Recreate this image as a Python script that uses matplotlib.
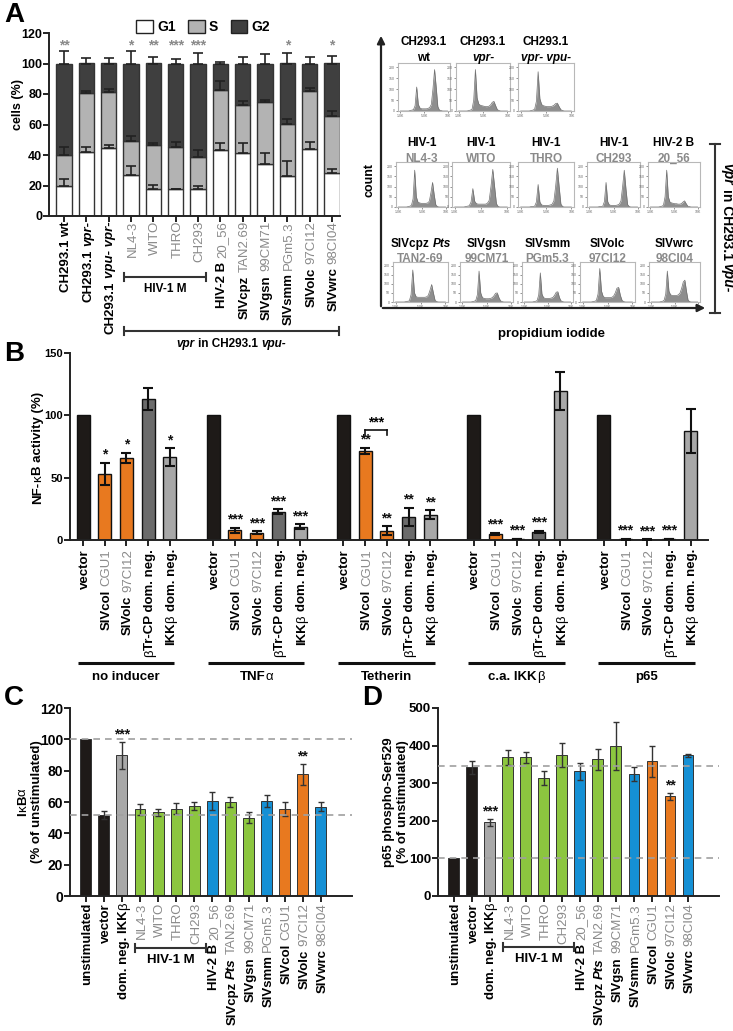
import matplotlib
matplotlib.use('Agg')
import matplotlib.pyplot as plt
from matplotlib.patches import Patch
import numpy as np

plt.rcParams['font.family'] = ['Liberation Sans', 'DejaVu Sans']

# ======================= DATA =======================
# Panel A (cell cycle, stacked %)
A_labels = [[("CH293.1 wt", 'b')], [("CH293.1 ", 'b'), ("vpr-", 'i')],
            [("CH293.1 ", 'b'), ("vpu- vpr-", 'i')],
            [("NL4-3", 'g')], [("WITO", 'g')], [("THRO", 'g')], [("CH293", 'g')],
            [("HIV-2 B ", 'b'), ("20_56", 'g')], [("SIVcpz ", 'b'), ("TAN2.69", 'g')],
            [("SIVgsn ", 'b'), ("99CM71", 'g')], [("SIVsmm ", 'b'), ("PGm5.3", 'g')],
            [("SIVolc ", 'b'), ("97CI12", 'g')], [("SIVwrc ", 'b'), ("98CI04", 'g')]]
A_g1 = [20, 42, 44.5, 27, 18, 17.5, 17.5, 43.5, 41, 34, 26.5, 44, 28]
A_g1_err = [4.5, 3, 2, 6, 2.5, 0.5, 2, 4.5, 7, 7, 9.5, 4.5, 3]
A_s_top = [40, 80.5, 81.5, 49.5, 46.5, 45, 38.5, 82.5, 72.5, 74.5, 60.5, 82, 65.5]
A_s_err = [5, 1.5, 2, 3, 1.5, 3.5, 4.5, 6, 3, 1.5, 3, 2, 3.5]
A_total = [100] * 13
A_g2_err = [8.5, 3.5, 3.5, 8.5, 4, 3, 7, 1, 4.5, 6.5, 7, 4, 5]
A_stars = ['**', '', '', '*', '**', '***', '***', '', '', '', '*', '', '*']

# Panel A histograms (normalised counts per bin)
h_wt = [0, 0, 0, 0, 0, 0, .01, .02, .03, .12, .55, .15, .07, .05, .05, .05, .05, .06, .08, .15, .5, .95, .55, .1, .02, .01, 0, 0, 0, 0]
h_vpr = [0, 0, 0, 0, 0, 0, .01, .02, .04, .25, .95, .3, .16, .13, .12, .11, .1, .1, .11, .14, .2, .22, .12, .03, .01, 0, 0, 0, 0, 0]
h_vprvpu = [0, 0, 0, 0, 0, 0, .01, .02, .04, .22, .9, .28, .15, .12, .11, .1, .1, .1, .11, .13, .17, .18, .1, .03, .01, 0, 0, 0, 0, 0]
h_nl43 = [0, 0, 0, 0, 0, 0, .01, .02, .04, .2, .9, .25, .12, .1, .09, .09, .09, .09, .1, .14, .35, .6, .3, .05, .01, 0, 0, 0, 0, 0]
h_wito = [0, 0, 0, 0, 0, 0, .01, .02, .03, .12, .45, .14, .08, .07, .07, .07, .07, .07, .09, .16, .5, .92, .5, .08, .01, 0, 0, 0, 0, 0]
h_thro = [0, 0, 0, 0, 0, 0, .01, .01, .02, .12, .55, .12, .05, .04, .04, .04, .04, .05, .07, .15, .5, .95, .5, .07, .01, 0, 0, 0, 0, 0]
h_ch293 = [0, 0, 0, 0, 0, 0, .01, .01, .02, .13, .6, .13, .05, .04, .04, .04, .04, .05, .07, .15, .5, .9, .45, .06, .01, 0, 0, 0, 0, 0]
h_2056 = [0, 0, 0, 0, 0, 0, .01, .02, .04, .25, .9, .25, .12, .1, .09, .08, .08, .07, .07, .08, .12, .15, .08, .02, .01, 0, 0, 0, 0, 0]
h_tan = [0, 0, 0, 0, 0, 0, .01, .02, .03, .2, .88, .25, .14, .13, .13, .13, .13, .13, .14, .18, .32, .48, .25, .04, .01, 0, 0, 0, 0, 0]
h_gsn = [0, 0, 0, 0, 0, 0, .01, .02, .04, .2, .85, .25, .12, .1, .09, .09, .09, .1, .12, .17, .24, .25, .12, .03, .01, 0, 0, 0, 0, 0]
h_smm = [0, 0, 0, 0, 0, 0, .01, .02, .04, .2, .8, .22, .12, .1, .1, .1, .1, .11, .13, .19, .27, .28, .12, .03, .01, 0, 0, 0, 0, 0]
h_olc = [0, 0, 0, 0, 0, 0, .01, .02, .04, .22, .92, .3, .15, .12, .12, .12, .12, .13, .16, .25, .38, .4, .18, .04, .01, 0, 0, 0, 0, 0]
h_wrc = [0, 0, 0, 0, 0, 0, .01, .02, .05, .22, .85, .3, .2, .18, .18, .18, .18, .2, .25, .38, .55, .6, .3, .05, .01, 0, 0, 0, 0, 0]
hist_titles = [
    ([("CH293.1", 'b')], [("wt", 'b')]), ([("CH293.1", 'b')], [("vpr-", 'i')]),
    ([("CH293.1", 'b')], [("vpr- vpu-", 'i')]),
    ([("HIV-1", 'b')], [("NL4-3", 'gb')]), ([("HIV-1", 'b')], [("WITO", 'gb')]),
    ([("HIV-1", 'b')], [("THRO", 'gb')]), ([("HIV-1", 'b')], [("CH293", 'gb')]),
    ([("HIV-2 B", 'b')], [("20_56", 'gb')]),
    ([("SIVcpz ", 'b'), ("Pts", 'i')], [("TAN2-69", 'gb')]), ([("SIVgsn", 'b')], [("99CM71", 'gb')]),
    ([("SIVsmm", 'b')], [("PGm5.3", 'gb')]), ([("SIVolc", 'b')], [("97CI12", 'gb')]),
    ([("SIVwrc", 'b')], [("98CI04", 'gb')])]
hist_data = [h_wt, h_vpr, h_vprvpu, h_nl43, h_wito, h_thro, h_ch293, h_2056,
             h_tan, h_gsn, h_smm, h_olc, h_wrc]
hist_ytick_labels = ['0', '50', '100', '150', '200']
hist_xtick_labels = ['1.0K', '5.0K', '10K']

# Panel B (NF-kB activity)
B_groups = [[("no inducer", 'b')], [("TNF", 'b'), ("α", 'n')], [("Tetherin", 'b')],
            [("c.a. IKK", 'b'), ("β", 'n')], [("p65", 'b')]]
B_labels = [[("vector", 'b')], [("SIVcol ", 'b'), ("CGU1", 'g')], [("SIVolc ", 'b'), ("97CI12", 'g')],
            [("β", 'n'), ("Tr-CP dom. neg.", 'b')], [("IKK", 'b'), ("β", 'n'), (" dom. neg.", 'b')]]
B_vals = [[100, 53, 66, 113, 66.5], [100, 8, 6, 22.5, 10.5], [100, 71.5, 7.5, 18.5, 20.3],
          [100, 5, 0.8, 6.3, 119.5], [100, 0.5, 0.3, 0.8, 87.3]]
B_err = [[0, 9, 4, 9, 7], [0, 2, 1, 2, 2], [0, 2.5, 3.5, 7, 3.5],
         [0, 0.8, 0.3, 1, 15.5], [0, 0.2, 0.2, 0.3, 17.8]]
B_stars = [['', '*', '*', '', '*'], ['', '***', '***', '***', '***'], ['', '**', '**', '**', '**'],
           ['', '***', '***', '***', ''], ['', '***', '***', '***', '']]

# Panels C and D
CD_labels = [[("unstimulated", 'b')], [("vector", 'b')], [("dom. neg. IKK", 'b'), ("β", 'n')],
             [("NL4-3", 'g')], [("WITO", 'g')], [("THRO", 'g')], [("CH293", 'g')],
             [("HIV-2 B ", 'b'), ("20_56", 'g')], [("SIVcpz ", 'b'), ("Pts", 'i'), (" TAN2.69", 'g')],
             [("SIVgsn ", 'b'), ("99CM71", 'g')], [("SIVsmm ", 'b'), ("PGm5.3", 'g')],
             [("SIVcol ", 'b'), ("CGU1", 'g')], [("SIVolc ", 'b'), ("97CI12", 'g')],
             [("SIVwrc ", 'b'), ("98CI04", 'g')]]
C_vals = [100, 51.8, 89.8, 55.4, 53.3, 55.6, 57.4, 60.8, 59.9, 49.9, 60.6, 55.4, 77.6, 57.1]
C_err = [0, 2.4, 8.6, 3.4, 2.5, 3.5, 2.5, 5.8, 3.2, 3.4, 3.6, 4.5, 6.6, 2.6]
C_stars = ['', '', '***', '', '', '', '', '', '', '', '', '', '**', '']
C_ref = [100, 52]
D_vals = [100, 342, 196, 369, 369, 313, 375, 332, 364, 399, 324, 358, 265, 374]
D_err = [0, 18, 10, 20, 15, 19, 31, 23, 28, 65, 19, 42, 10, 4.5]
D_stars = ['', '', '***', '', '', '', '', '', '', '', '', '', '**', '']
D_ref = [100, 345]

# ======================= STYLE =======================
BLACK = '#1e1a18'
ORANGE = '#e8791f'
GREEN = '#8cc63f'
BLUE = '#1590d5'
DGREY = '#6b6b6b'
LGREY = '#a8a8a8'
GREYTXT = '#8a8a8a'
S_C = '#b3b3b3'
G2_C = '#3f3f3f'
CD_colors = [BLACK, BLACK, LGREY, GREEN, GREEN, GREEN, GREEN, BLUE, GREEN, GREEN, BLUE,
             ORANGE, ORANGE, BLUE]
B_colors = [BLACK, ORANGE, ORANGE, DGREY, LGREY]

STY = {'b': dict(color='black', fontweight='bold'),
       'g': dict(color=GREYTXT, fontweight='normal'),
       'gb': dict(color=GREYTXT, fontweight='bold'),
       'i': dict(color='black', fontweight='bold', fontstyle='italic'),
       'n': dict(color='black', fontweight='normal')}

W, H = 733, 1031
fig = plt.figure(figsize=(W / 100, H / 100), dpi=100)
ov = fig.add_axes([0, 0, 1, 1], zorder=20)
ov.set_xlim(0, W)
ov.set_ylim(H, 0)
ov.axis('off')
R = fig.canvas.get_renderer()


def add_ax(l, t, r, b):
    return fig.add_axes([l / W, 1 - b / H, (r - l) / W, (b - t) / H])


def to_ov(ax, x, y):
    X, Y = ax.transData.transform((x, y))
    return X, H - Y


def mixed(x, y, parts, size, rot=0, anchor='center'):
    em = size * 100 / 72.0
    sp = 0.278 * em
    items = []
    total = 0.0
    for s, st in parts:
        lead = len(s) - len(s.lstrip(' '))
        trail = len(s) - len(s.rstrip(' '))
        core = s.strip(' ')
        t = ov.text(0, 0, core, fontsize=size, ha='left', va='baseline',
                    rotation_mode='anchor', **STY[st])
        w = t.get_window_extent(R).width
        items.append((t, lead * sp, w, trail * sp))
        total += lead * sp + w + trail * sp
    if rot == 0:
        d = (1, 0); perp = (0, 0.36 * em)
    elif rot == 90:
        d = (0, -1); perp = (0.36 * em, 0)
    else:
        d = (0, 1); perp = (-0.36 * em, 0)
    if anchor == 'center':
        o = -total / 2
    elif anchor == 'end':
        o = -total
    else:
        o = 0
    u = o
    for t, lead, w, trail in items:
        u += lead
        t.set_position((x + d[0] * u + perp[0], y + d[1] * u + perp[1]))
        t.set_rotation(rot)
        u += w + trail


def style_bar_ax(ax, yt, size):
    for s in ['top', 'right']:
        ax.spines[s].set_visible(False)
    for s in ['left', 'bottom']:
        ax.spines[s].set_linewidth(1.4)
        ax.spines[s].set_color('#222222')
    ax.set_yticks(yt)
    ax.set_yticklabels([str(v) for v in yt], fontweight='bold', fontsize=size)
    ax.tick_params(axis='both', width=1.4, length=4, color='#222222', pad=1)
    ax.tick_params(axis='x', labelbottom=False)


def bracket(x0, x1, y, lw=1.5, tick=4):
    ov.plot([x0, x1], [y, y], color='#333333', lw=lw, solid_capstyle='butt')
    ov.plot([x0, x0], [y - tick, y + tick], color='#333333', lw=lw)
    ov.plot([x1, x1], [y - tick, y + tick], color='#333333', lw=lw)


# ======================= PANEL A (bars) =======================
axA = add_ax(49, 33, 340, 216)
n = len(A_g1)
xa = np.arange(n)
bw = 0.68
g1 = np.array(A_g1)
st = np.array(A_s_top)
axA.bar(xa, g1, bw, color='white', edgecolor='#333333', lw=1, zorder=2)
axA.bar(xa, st - g1, bw, bottom=g1, color=S_C, edgecolor='#333333', lw=1, zorder=2)
axA.bar(xa, np.array(A_total) - st, bw, bottom=st, color=G2_C, edgecolor='#333333', lw=1, zorder=2)
for tops, err in [(A_g1, A_g1_err), (A_s_top, A_s_err), (A_total, A_g2_err)]:
    axA.errorbar(xa, tops, yerr=[np.zeros(n), err], fmt='none', ecolor='#222222',
                 elinewidth=1.2, capsize=3.5, capthick=1.2, zorder=3)
for i, s in enumerate(A_stars):
    axA.text(i, 111.5, s, ha='center', va='center', color=GREYTXT, fontsize=10, fontweight='bold')
axA.set_xlim(-0.67, 12.36)
axA.set_ylim(0, 120)
axA.set_xticks(xa)
style_bar_ax(axA, [0, 20, 40, 60, 80, 100, 120], 9)
for i, parts in enumerate(A_labels):
    X, _ = to_ov(axA, i, 0)
    mixed(X, 221, parts, 9.5, rot=90, anchor='end')
xl, _ = to_ov(axA, 3 - 0.3, 0)
xr, _ = to_ov(axA, 6 + 0.36, 0)
bracket(xl, xr, 277)
mixed((xl + xr) / 2, 288, [("HIV-1 M", 'b')], 8.5)
xr2, _ = to_ov(axA, 12 + 0.3, 0)
bracket(xl, xr2, 331)
mixed((xl + xr2) / 2, 343, [("vpr", 'i'), (" in CH293.1 ", 'b'), ("vpu-", 'i')], 8.5)
mixed(16, 105, [("cells (%)", 'b')], 9, rot=90)
fig.legend(handles=[Patch(fc='white', ec='#222222', label='G1'),
                    Patch(fc=S_C, ec='#222222', label='S'),
                    Patch(fc=G2_C, ec='#222222', label='G2')],
           loc='center', bbox_to_anchor=(203 / W, 1 - 27 / H), ncol=3, frameon=False,
           prop=dict(weight='bold', size=10), handlelength=1.2, handleheight=1.1,
           handletextpad=0.3, columnspacing=0.9, borderpad=0)

# ======================= PANEL A (histograms) =======================
hist_boxes = [(398, 63, 450, 111), (456, 63, 510, 111), (518, 63, 574, 111),
              (396, 162, 448, 207), (452, 162, 510, 207), (518, 162, 574, 207),
              (587, 162, 640, 207), (648, 162, 700, 207),
              (393, 262, 448, 302), (460, 262, 513, 302), (522, 262, 573, 302),
              (580, 262, 635, 302), (649, 262, 700, 302)]
title_rows = {63: (41, 57), 162: (142, 158), 262: (243, 258)}
for box, vals, (t1, t2) in zip(hist_boxes, hist_data, hist_titles):
    l, t, r, b = box
    hx = add_ax(l, t, r, b)
    xs = np.arange(len(vals))
    hx.fill_between(xs, vals, color='#8e8e8e', lw=0)
    hx.plot(xs, vals, color='#707070', lw=0.5)
    hx.set_xlim(-1.5, len(vals) + 0.5)
    hx.set_ylim(0, 1.1)
    for sp in hx.spines.values():
        sp.set_color('#b8b8b8')
        sp.set_linewidth(0.8)
    hx.set_yticks([0, .25, .5, .75, 1.0])
    hx.set_yticklabels(hist_ytick_labels)
    hx.set_xticks([0, 14.5, 29])
    hx.set_xticklabels(hist_xtick_labels)
    hx.tick_params(length=1.5, width=0.5, labelsize=2.5, colors='#666666', pad=1)
    y1, y2 = title_rows[t]
    cx = (l + r) / 2
    mixed(cx, y1, t1, 8.5)
    mixed(cx, y2, t2, 8.5)

ov.annotate('', xy=(381, 33), xytext=(381, 309),
            arrowprops=dict(arrowstyle='-|>', color='#222222', lw=1.6, mutation_scale=11))
ov.annotate('', xy=(708, 308), xytext=(380, 308),
            arrowprops=dict(arrowstyle='-|>', color='#222222', lw=1.6, mutation_scale=11))
mixed(368, 180, [("count", 'b')], 9, rot=90)
mixed(552, 332, [("propidium iodide", 'b')], 9.5)
ov.plot([715, 715], [144, 313], color='#333333', lw=1.5)
ov.plot([710, 720], [144, 144], color='#333333', lw=1.5)
ov.plot([710, 720], [313, 313], color='#333333', lw=1.5)
mixed(728, 228, [("vpr", 'i'), (" in CH293.1 ", 'b'), ("vpu-", 'i')], 10, rot=-90)

# ======================= PANEL B =======================
axB = add_ax(70, 353, 708, 540)
bwB = 0.6
for g in range(5):
    for j in range(5):
        x = 6 * g + j
        v = B_vals[g][j]
        e = B_err[g][j]
        axB.bar(x, v, bwB, color=B_colors[j], edgecolor='#111111', lw=1, zorder=2)
        if e > 0:
            axB.errorbar(x, v, yerr=e, fmt='none', ecolor='#111111', elinewidth=1.5,
                         capsize=3.5, capthick=1.5, zorder=3)
        if B_stars[g][j]:
            axB.text(x, v + e + 1.0, B_stars[g][j], ha='center', va='bottom',
                     fontsize=10, fontweight='bold', color='#111111')
axB.set_xlim(-0.6, 28.8)
axB.set_ylim(0, 150)
axB.set_xticks([6 * g + j for g in range(5) for j in range(5)])
style_bar_ax(axB, [0, 50, 100, 150], 8)
# Tetherin bracket between SIVcol and SIVolc
axB.plot([13, 14], [88, 88], color='#111111', lw=1.2)
axB.plot([13, 13], [84.5, 88], color='#111111', lw=1.2)
axB.plot([14, 14], [84.5, 88], color='#111111', lw=1.2)
axB.text(13.5, 89, '***', ha='center', va='bottom', fontsize=10, fontweight='bold')
for g in range(5):
    for j in range(5):
        X, _ = to_ov(axB, 6 * g + j, 0)
        mixed(X, 549, B_labels[j], 9.5, rot=90, anchor='end')
    x0, _ = to_ov(axB, 6 * g - 0.25, 0)
    x1, _ = to_ov(axB, 6 * g + 4.2, 0)
    ov.plot([x0, x1], [663, 663], color='#111111', lw=2.2, solid_capstyle='butt')
    mixed((x0 + x1) / 2, 675, B_groups[g], 9.5)
mixed(36, 448, [("NF-", 'b'), ("κ", 'n'), ("B activity (%)", 'b')], 9.5, rot=90)


# ======================= PANELS C & D =======================
def cd_panel(box, vals, errs, stars, refs, yt, ylim, star_off, bracket_px, tsize):
    ax = add_ax(*box)
    xs = np.arange(len(vals))
    for r_ in refs:
        ax.axhline(r_, color='#a0a0a0', lw=1.2, ls=(0, (4, 3)), zorder=4)
    ax.bar(xs, vals, 0.6, color=CD_colors, edgecolor='#333333', lw=0.7, zorder=2)
    e = np.array(errs)
    m = e > 0
    ax.errorbar(xs[m], np.array(vals)[m], yerr=e[m], fmt='none', ecolor='#333333',
                elinewidth=1.0, capsize=2.5, capthick=1.0, zorder=3)
    for i, s in enumerate(stars):
        if s:
            ax.text(i, vals[i] + errs[i] + star_off, s, ha='center', va='bottom',
                    fontsize=10, fontweight='bold', color='#111111', zorder=5)
    ax.set_xlim(-0.87, 14.72)
    ax.set_ylim(*ylim)
    ax.set_xticks(xs)
    style_bar_ax(ax, yt, tsize)
    for i, parts in enumerate(CD_labels):
        X, _ = to_ov(ax, i, 0)
        mixed(X, 903, parts, 9.5, rot=90, anchor='end')
    xl_, _ = to_ov(ax, 3 - 0.25, 0)
    xr_, _ = to_ov(ax, 6 + 0.65, 0)
    bracket(xl_, xr_, bracket_px)
    mixed((xl_ + xr_) / 2, bracket_px + 10, [("HIV-1 M", 'b')], 9.5)
    return ax


axC = cd_panel((70, 708, 352, 896), C_vals, C_err, C_stars, C_ref,
               [0, 20, 40, 60, 80, 100, 120], (0, 120), 0.3, 948, 10)
mixed(21, 802, [("I", 'b'), ("κ", 'n'), ("B", 'b'), ("α", 'n')], 9.5, rot=90)
mixed(35, 802, [("(% of unstimulated)", 'b')], 9.5, rot=90)

axD = cd_panel((438, 708, 719, 896), D_vals, D_err, D_stars, D_ref,
               [0, 100, 200, 300, 400, 500], (0, 500), 1.5, 947, 9.5)
mixed(387, 802, [("p65 phospho-Ser529", 'b')], 9.5, rot=90)
mixed(401, 802, [("(% of unstimulated)", 'b')], 9.5, rot=90)

# panel letters
for letter, x, y in [('A', 4, 2), ('B', 4, 341), ('C', 4, 685), ('D', 362, 685)]:
    ov.text(x, y, letter, fontsize=20, fontweight='bold', ha='left', va='top')

fig.savefig('out.png', dpi=100)
